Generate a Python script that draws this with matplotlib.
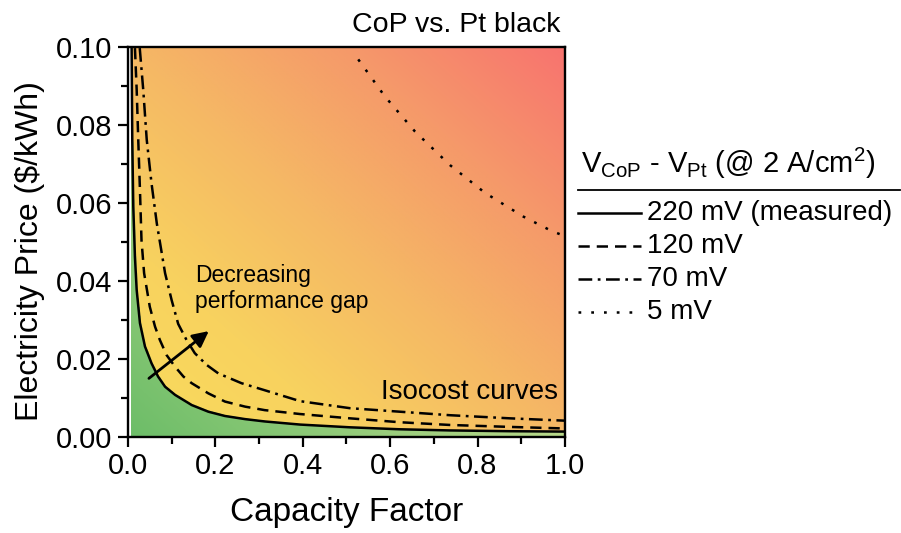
import numpy as np
import matplotlib
matplotlib.use("Agg")
import matplotlib.pyplot as plt
from matplotlib.colors import LinearSegmentedColormap
from matplotlib.lines import Line2D

plt.rcParams['font.family'] = ['Liberation Sans', 'DejaVu Sans']
plt.rcParams['mathtext.fontset'] = 'custom'
plt.rcParams['mathtext.rm'] = 'Liberation Sans'
plt.rcParams['mathtext.it'] = 'Liberation Sans'

# ---- data ----
x_220 = [0.0084, 0.0099, 0.0122, 0.016, 0.020, 0.0275, 0.039, 0.054, 0.069, 0.085, 0.108,
         0.146, 0.184, 0.222, 0.268, 0.313, 0.394, 0.508, 0.62, 0.737, 0.874, 1.0]
y_220 = [0.0997, 0.0762, 0.0591, 0.0462, 0.0377, 0.0292, 0.0232, 0.0189, 0.0155, 0.0129, 0.0108,
         0.0082, 0.0065, 0.0054, 0.0046, 0.0040, 0.0032, 0.0025, 0.0020, 0.0017, 0.0015, 0.0014]

x_120 = [0.016, 0.020, 0.0236, 0.0275, 0.031, 0.037, 0.050, 0.062, 0.073, 0.0885, 0.108, 0.127,
         0.146, 0.184, 0.222, 0.268, 0.313, 0.394, 0.508, 0.622, 0.737, 0.874, 1.0]
y_120 = [0.0997, 0.089, 0.0762, 0.0633, 0.0505, 0.0420, 0.0334, 0.0283, 0.0249, 0.0210, 0.0180, 0.0155,
         0.0138, 0.0112, 0.0091, 0.0078, 0.0069, 0.0059, 0.0048, 0.0038, 0.0031, 0.0026, 0.0022]

x_70 = [0.027, 0.035, 0.043, 0.054, 0.066, 0.085, 0.100, 0.115, 0.134, 0.153, 0.180, 0.207,
        0.260, 0.313, 0.394, 0.508, 0.622, 0.737, 0.874, 1.0]
y_70 = [0.0997, 0.089, 0.0762, 0.065, 0.0548, 0.0420, 0.0351, 0.0290, 0.0249, 0.0215, 0.0185, 0.0163,
        0.0138, 0.0120, 0.0092, 0.0074, 0.0065, 0.0056, 0.0048, 0.0042]

x_5 = [0.527, 0.588, 0.657, 0.737, 0.817, 0.905, 0.970, 1.0]
y_5 = [0.0968, 0.0873, 0.0783, 0.0697, 0.0626, 0.0565, 0.0528, 0.0515]

labels = ["220 mV (measured)", "120 mV", "70 mV", "5 mV"]
x_ticks = [0.0, 0.2, 0.4, 0.6, 0.8, 1.0]
y_ticks = [0.00, 0.02, 0.04, 0.06, 0.08, 0.10]

# ---- styles ----
lw = 1.8
styles = [
    dict(linestyle='-'),
    dict(linestyle=(0, (4.5, 2.8))),
    dict(linestyle=(0, (5.5, 2.2, 1.1, 2.2))),
    dict(linestyle=(0, (1.1, 4.0))),
]

fig = plt.figure(figsize=(9.01, 5.33), dpi=100)
ax = fig.add_axes([0.142, 0.180, 0.485, 0.732])

# ---- background gradient ----
nx, ny = 500, 400
gx = np.linspace(0.006, 1.0, nx)
gy = np.linspace(0.0, 0.1, ny)
GX, GY = np.meshgrid(gx, gy)
t = 0.5 * GX + 0.5 * (GY / 0.1)
warm = LinearSegmentedColormap.from_list(
    'warm', [(0.0, '#f9dc5c'), (0.25, '#f8d25f'), (0.5, '#f5b865'), (0.75, '#f5996a'), (1.0, '#f8736f')])
green = LinearSegmentedColormap.from_list(
    'green', [(0.0, '#6cbd68'), (0.5, '#b8d88a'), (1.0, '#d8e29a')])
boundary = np.interp(gx, x_220, y_220, left=1.0)
below = GY < boundary[None, :]
rgb = np.where(below[..., None], green(t)[..., :3], warm(t)[..., :3])
ax.imshow(rgb, extent=[0.006, 1.0, 0.0, 0.1], origin='lower', aspect='auto',
          interpolation='bilinear', zorder=0)

# ---- curves ----
for (xs, ys), st in zip([(x_220, y_220), (x_120, y_120), (x_70, y_70), (x_5, y_5)], styles):
    ax.plot(xs, ys, color='black', lw=lw, zorder=3, solid_joinstyle='round', **st)

ax.set_xlim(0, 1.0)
ax.set_ylim(0, 0.1)
ax.set_xticks(x_ticks)
ax.set_yticks(y_ticks)
ax.set_xticklabels([f"{v:.1f}" for v in x_ticks])
ax.set_yticklabels([f"{v:.2f}" for v in y_ticks])
ax.set_xticks(np.arange(0.1, 1.0, 0.2), minor=True)
ax.set_yticks(np.arange(0.01, 0.1, 0.02), minor=True)
ax.tick_params(which='major', direction='out', length=7, width=1.6, labelsize=21, pad=4)
ax.tick_params(which='minor', direction='out', length=5, width=1.6)
for sp in ax.spines.values():
    sp.set_linewidth(1.7)

ax.set_xlabel("Capacity Factor", fontsize=24, labelpad=12)
ax.set_ylabel(r"Electricity Price (\$/kWh)", fontsize=23)
ax.yaxis.set_label_coords(-0.19, 0.477)

# annotations
ax.annotate('', xy=(0.19, 0.0276), xytext=(0.043, 0.0146),
            arrowprops=dict(arrowstyle='-|>', color='black', lw=2, mutation_scale=24), zorder=4)
ax.text(0.153, 0.0381, "Decreasing\nperformance gap", fontsize=16.5, ha='left', va='center',
        linespacing=1.15, zorder=4)
ax.text(0.985, 0.0115, "Isocost curves", fontsize=20, ha='right', va='center', zorder=4)

fig.text(560 / 901, 1 - 25 / 533, "CoP vs. Pt black", fontsize=20.5, ha='right', va='center')

# ---- legend drawn in figure coordinates ----
def fx(px):
    return px / 901

def fy(py):
    return 1 - py / 533

fig.text(fx(581), fy(163), r"V$_{\mathrm{CoP}}$ - V$_{\mathrm{Pt}}$ (@ 2 A/cm$^2$)",
         fontsize=21, ha='left', va='center')
fig.add_artist(Line2D([fx(578), fx(900)], [fy(190), fy(190)], color='black', lw=1.3,
                      transform=fig.transFigure))
rows = [213, 246, 279, 312]
for lab, st, py in zip(labels, styles, rows):
    fig.add_artist(Line2D([fx(578), fx(641)], [fy(py), fy(py)], color='black', lw=lw,
                          transform=fig.transFigure, **st))
    fig.text(fx(647), fy(py), lab, fontsize=20, ha='left', va='center')

fig.savefig("out.png", dpi=100)
